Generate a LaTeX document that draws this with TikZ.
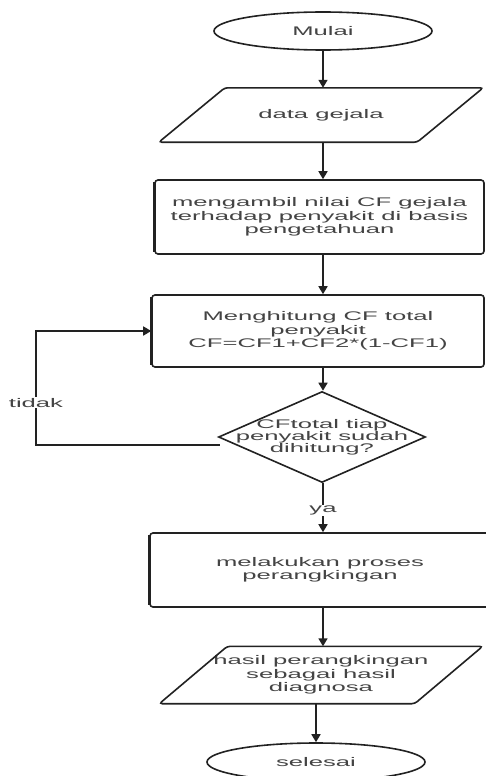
\documentclass[tikz,border=0pt]{standalone}
\usepackage{fontspec}
\setmainfont{Liberation Sans}[FakeStretch=2.05]
\usetikzlibrary{shapes.geometric,arrows.meta,calc}
\definecolor{ln}{HTML}{222222}
\definecolor{tx}{HTML}{444444}
\begin{document}
\begin{tikzpicture}[x=1pt,y=-1pt,
  font=\fontsize{12.5}{13.5}\selectfont,
  every node/.style={text=tx,align=center},
  line/.style={draw=ln,line width=1.6pt},
  arrow/.style={line,-{Triangle[length=8pt,width=9pt]}},
  terminal/.style={ellipse,line,minimum width=218pt,minimum height=38pt,inner sep=0pt},
  iobox/.style={rectangle,draw=none,minimum width=258pt,minimum height=54pt,inner sep=0pt},
  procbox/.style={rectangle,line,rounded corners=3pt,minimum width=332pt,minimum height=74pt,inner sep=0pt},
  decision/.style={diamond,line,minimum width=207pt,minimum height=91pt,aspect=2.27,inner sep=0pt},
  lbl/.style={fill=white,inner sep=1pt},
  edge/.style={draw=ln,line width=2.6pt}]
\useasboundingbox (0,0) rectangle (485,776);
\fill[white] (0,0) rectangle (485,776);

\node[terminal] (mulai) at (323,31) {Mulai};
\node[iobox] (data) at (321,115) {data gejala};
\draw[line,rounded corners=3pt] ([xshift=-33pt]data.south west) -- ([xshift=33pt]data.north west) -- ([xshift=33pt]data.north east) -- ([xshift=-33pt]data.south east) -- cycle;
\node[procbox,minimum width=329pt] (ambil) at (319.5,217) {mengambil nilai CF gejala\\terhadap penyakit di basis\\pengetahuan};
\node[procbox,minimum height=72pt] (hitung) at (318,331) {Menghitung CF total\\penyakit\\CF=CF1+CF2*(1-CF1)};
\node[decision] (cek) at (322,437) {\smash{\makebox[0pt]{\raisebox{-4pt}{\begin{tabular}{@{}c@{}}CFtotal tiap\\[-1.5pt]penyakit sudah\\[-1.5pt]dihitung?\end{tabular}}}}};
\node[procbox,minimum width=340pt] (rank) at (320,570) {melakukan proses\\perangkingan};
\node[iobox,minimum width=255pt,minimum height=57pt] (hasil) at (321,675) {hasil perangkingan\\sebagai hasil\\diagnosa};
\draw[line,rounded corners=3pt] ([xshift=-34pt]hasil.south west) -- ([xshift=34pt]hasil.north west) -- ([xshift=34pt]hasil.north east) -- ([xshift=-34pt]hasil.south east) -- cycle;
\node[terminal] (selesai) at (316,762) {selesai};

\foreach \b in {ambil,hitung,rank}
  \draw[edge] ([yshift=-3pt]\b.north west) -- ([yshift=3pt]\b.south west);

\draw[arrow] (mulai.south) -- (mulai.south |- data.north);
\draw[arrow] (mulai.south |- data.south) -- (mulai.south |- ambil.north);
\draw[arrow] (mulai.south |- ambil.south) -- (mulai.south |- hitung.north);
\draw[arrow] (mulai.south |- hitung.south) -- (mulai.south |- cek.north);
\draw[arrow] (mulai.south |- cek.south) -- node[lbl,pos=0.55] {ya} (mulai.south |- rank.north);
\draw[arrow] (mulai.south |- rank.south) -- (mulai.south |- hasil.north);
\draw[arrow] (selesai.north |- hasil.south) -- (selesai.north);

\coordinate (tstart) at ($(cek.west)+(2,8)$);
\coordinate (tcorner) at (36,445);
\draw[arrow] (tstart) -- (tcorner) -- node[lbl,pos=0.37] {tidak} (tcorner |- hitung.west) -- (hitung.west);
\end{tikzpicture}
\end{document}
